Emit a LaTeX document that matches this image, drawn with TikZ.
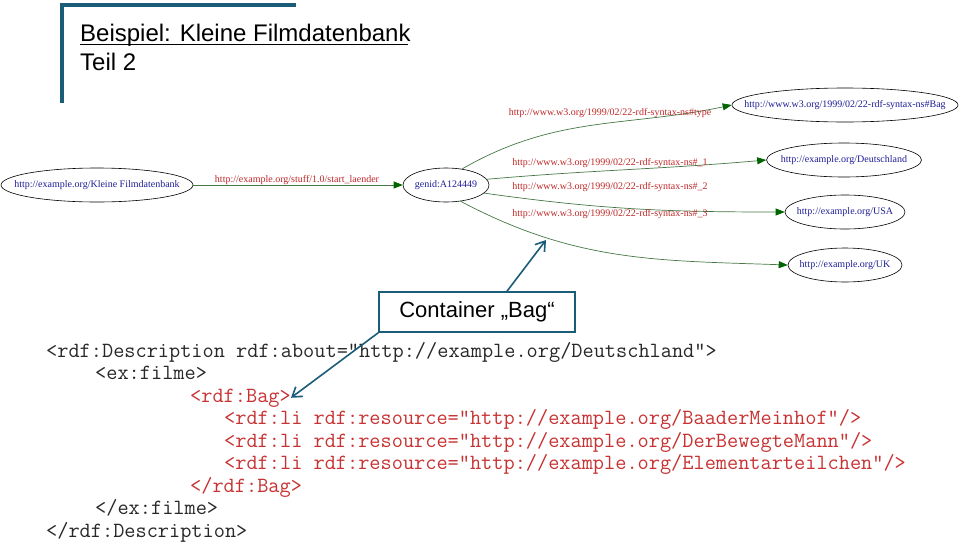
\documentclass[tikz,border=0pt]{standalone}
\usepackage{fontspec}
\setmainfont{Liberation Sans}
\newfontfamily\graphfont{Liberation Serif}
\usetikzlibrary{shapes.geometric,arrows.meta}
\definecolor{frameblue}{RGB}{27,92,120}
\definecolor{nodeblue}{RGB}{30,30,150}
\definecolor{labred}{RGB}{190,40,40}
\definecolor{edgegreen}{RGB}{70,120,70}
\definecolor{tipgreen}{RGB}{0,100,0}
\definecolor{codered}{RGB}{200,50,50}
\definecolor{codeblack}{RGB}{40,40,40}
\tikzset{
  rnode/.style={draw=black, line width=0.6pt, ellipse, fill=white, inner sep=0pt,
    minimum height=34pt},
  rtext/.style={inner sep=0pt, font=\graphfont\fontsize{10}{12}\selectfont, text=nodeblue},
  elab/.style={font=\graphfont\fontsize{10}{12}\selectfont, text=labred, inner sep=0pt},
  edge/.style={draw=edgegreen, line width=0.7pt, -{Triangle[length=9pt,width=7pt,fill=tipgreen,color=tipgreen]}},
  codeline/.style={anchor=base west, inner sep=0pt, font=\ttfamily\fontsize{21.7}{24}\selectfont},
  callarrow/.style={draw=frameblue, line width=1.6pt, -{Straight Barb[length=9pt,width=12pt]}},
}
\begin{document}
\begin{tikzpicture}[x=1pt,y=-1pt]
\useasboundingbox (0,0) rectangle (960,541);
\fill[white] (0,0) rectangle (960,541);
% frame
\draw[frameblue, line width=4pt] (62,103) -- (62,5) -- (296,5);
% title
\node[anchor=base west, inner sep=0pt, font=\fontsize{24}{28}\selectfont] (title) at (80,41) {Beispiel: Kleine Filmdatenbank};
\draw[line width=1.2pt] (title.base west) ++(0,3.5) -- ++(328,0);
\node[anchor=base west, inner sep=0pt, font=\fontsize{24}{28}\selectfont] (sub) at (80,70) {Teil 2};
% graph nodes
\node[rnode, minimum width=192pt] (kf) at (97,185) {};
\node[rtext] (kft) at (kf) {http://example.org/Kleine Filmdatenbank};
\node[rnode, minimum width=86pt] (gen) at (446,185) {};
\node[rtext] (gent) at (gen) {genid:A124449};
\node[rnode, minimum width=226pt] (bag) at (845,105) {};
\node[rtext] (bagt) at (bag) {http://www.w3.org/1999/02/22-rdf-syntax-ns\#Bag};
\node[rnode, minimum width=155pt] (de) at (844,160) {};
\node[rtext] (det) at (de) {http://example.org/Deutschland};
\node[rnode, minimum width=120pt] (usa) at (845,212) {};
\node[rtext] (usat) at (usa) {http://example.org/USA};
\node[rnode, minimum width=114pt] (uk) at (845,265) {};
\node[rtext] (ukt) at (uk) {http://example.org/UK};
% edges
\draw[edge] (kf.east) -- (gen.west);
\draw[edge] (gen.45) to[out=30,in=192] (bag.west);
\draw[edge] (gen.8) to[out=5,in=185] (de.west);
\draw[edge] (gen.-12) to[out=-8,in=180] (usa.west);
\draw[edge] (gen.-48) to[out=-28,in=178] (uk.west);
% edge labels
\node[elab] (l0) at (297,180) {http://example.org/stuff/1.0/start\_laender};
\node[elab] (l1) at (610,113) {http://www.w3.org/1999/02/22-rdf-syntax-ns\#type};
\node[elab] (l2) at (610,163) {http://www.w3.org/1999/02/22-rdf-syntax-ns\#\_1};
\node[elab] (l3) at (610,187) {http://www.w3.org/1999/02/22-rdf-syntax-ns\#\_2};
\node[elab] (l4) at (610,214) {http://www.w3.org/1999/02/22-rdf-syntax-ns\#\_3};
% code
\node[codeline, text=codeblack] (c1) at (46,357) {<rdf:Description rdf:about="http://example.org/Deutschland">};
\node[codeline, text=codeblack] (c2) at (95,379.5) {<ex:filme>};
\node[codeline, text=codered] (c3) at (190,402) {<rdf:Bag>};
\node[codeline, text=codered] (c4) at (224,424.5) {<rdf:li rdf:resource="http://example.org/BaaderMeinhof"/>};
\node[codeline, text=codered] (c5) at (224,447) {<rdf:li rdf:resource="http://example.org/DerBewegteMann"/>};
\node[codeline, text=codered] (c6) at (224,469.5) {<rdf:li rdf:resource="http://example.org/Elementarteilchen"/>};
\node[codeline, text=codered] (c7) at (190,492) {</rdf:Bag>};
\node[codeline, text=codeblack] (c8) at (95,514.5) {</ex:filme>};
\node[codeline, text=codeblack] (c9) at (46,537) {</rdf:Description>};
% callout
\coordinate (tipA) at (546,240);
\node[draw=frameblue, line width=1.6pt, fill=white, minimum width=196pt, minimum height=40pt, inner sep=0pt,
  font=\fontsize{22}{26}\selectfont] (call) at (477,312) {Container „Bag“};
\draw[callarrow] (call.north -| 507,0) -- (tipA);
\draw[callarrow] (call.south west) -- (c3.east);
\end{tikzpicture}
\end{document}
